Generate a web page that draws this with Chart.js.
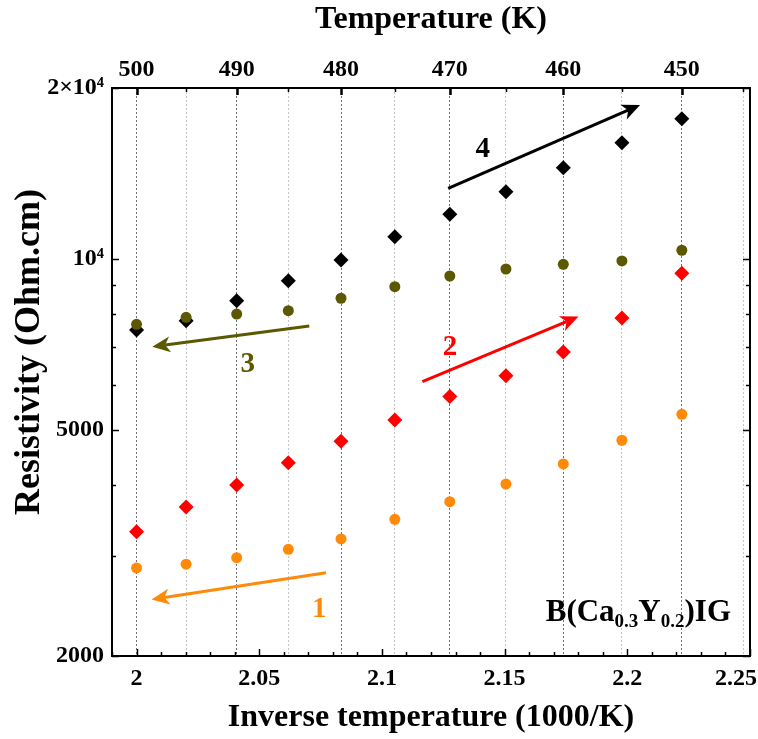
<!DOCTYPE html>
<html>
<head>
<meta charset="utf-8">
<script src="https://cdn.jsdelivr.net/npm/chart.js@4/dist/chart.umd.min.js"></script>
<style>
  html, body { margin: 0; padding: 0; background: #fff; }
  #wrap { width: 758px; height: 739px; }
</style>
</head>
<body>
<div id="wrap"><canvas id="c" width="758" height="739"></canvas></div>
<script>
// Measurement temperatures (K) and resistivity (Ohm.cm) for the four runs
const temperatureK = [500, 495, 490, 485, 480, 475, 470, 465, 460, 455, 450];
const rhoRun1 = [2858, 2902, 2980, 3082, 3214, 3480, 3738, 4016, 4356, 4796, 5328];
const rhoRun2 = [3310, 3660, 4000, 4378, 4776, 5206, 5726, 6230, 6858, 7872, 9438];
const rhoRun3 = [7674, 7894, 8000, 8108, 8528, 8938, 9334, 9602, 9788, 9920, 10360];
const rhoRun4 = [7500, 7786, 8444, 9154, 9960, 10948, 11988, 13134, 14476, 16024, 17660];

// Axis ranges and ticks
const X_MIN = 1.99, X_MAX = 2.25;
const inverseTicks = [2, 2.05, 2.1, 2.15, 2.2, 2.25];
const inverseMinorTicks = [1.99, 2.01, 2.02, 2.03, 2.04, 2.06, 2.07, 2.08, 2.09, 2.11, 2.12, 2.13, 2.14, 2.16, 2.17, 2.18, 2.19, 2.21, 2.22, 2.23, 2.24];
const temperatureTicksK = [500, 495, 490, 485, 480, 475, 470, 465, 460, 455, 450, 445];
const Y_MIN = 2000, Y_MAX = 20000;
const rhoTicks = [2000, 5000, 10000, 20000];
const rhoTickLabels = ['2000', '5000', '10\u2074', '2\u00d710\u2074'];
const rhoMinorTicks = [3000, 4000, 6000, 7000, 8000, 9000];
const yTitle = 'Resistivity (Ohm.cm)';

// Trend arrows: labels, tails, heads and label anchors (1000/K, Ohm.cm)
const arrowNames = ['1', '2', '3', '4'];
const arrowColors = ['#ff8a0a', '#ff0000', '#5b5800', '#000000'];
const arrowTail = [[2.0772, 2804], [2.1165, 6080], [2.0704, 7622], [2.1270, 13318]];
const arrowHead = [[2.0061, 2516], [2.1801, 7917], [2.0064, 7006], [2.2052, 18668]];
const arrowLabelAt = [[2.0745, 2420], [2.1277, 7006], [2.0453, 6550], [2.1411, 15660]];

const SERIF = '"Liberation Serif", "Times New Roman", serif';
const tickFont = { family: SERIF, size: 24, weight: 'bold' };
const titleFont = { family: SERIF, size: 32, weight: 'bold' };

const toPoints = (vals) => temperatureK.map((t, i) => ({ x: 1000 / t, y: vals[i] }));

function fmtInverse(v) {
  return String(+v.toFixed(2));
}

// Frame, inward tick marks, y title and the right-most bottom label
const frameTicks = {
  id: 'frameTicks',
  afterDatasetsDraw(chart) {
    const { ctx, chartArea: a, scales } = chart;
    const sx = scales.x, sy = scales.y;
    ctx.save();
    ctx.strokeStyle = '#000';
    ctx.lineWidth = 1.5;
    const vTick = (v, len) => {
      const p = Math.round(sx.getPixelForValue(v)) + 0.5;
      ctx.beginPath();
      ctx.moveTo(p, a.bottom); ctx.lineTo(p, a.bottom - len);
      ctx.stroke();
    };
    inverseTicks.forEach(v => vTick(v, 7));
    inverseMinorTicks.forEach(v => vTick(v, 4));
    temperatureTicksK.forEach(t => {
      const p = Math.round(sx.getPixelForValue(1000 / t)) + 0.5;
      const len = t % 10 === 0 ? 7 : 4;
      ctx.lineWidth = t % 10 === 0 ? 2.5 : 1.5;
      ctx.beginPath();
      ctx.moveTo(p, a.top); ctx.lineTo(p, a.top + len);
      ctx.stroke();
    });
    ctx.lineWidth = 1.5;
    const hTick = (v, len) => {
      const p = Math.round(sy.getPixelForValue(v)) + 0.5;
      ctx.beginPath();
      ctx.moveTo(a.left, p); ctx.lineTo(a.left + len, p);
      ctx.moveTo(a.right, p); ctx.lineTo(a.right - len, p);
      ctx.stroke();
    };
    rhoTicks.forEach(v => hTick(v, 7));
    rhoMinorTicks.forEach(v => hTick(v, 4));
    ctx.lineWidth = 2;
    ctx.strokeRect(a.left, a.top, a.right - a.left, a.bottom - a.top);

    // last bottom label, kept inside the canvas
    const last = inverseTicks[inverseTicks.length - 1];
    ctx.font = `bold ${tickFont.size}px ${SERIF}`;
    ctx.fillStyle = '#000';
    ctx.textAlign = 'center';
    ctx.textBaseline = 'middle';
    const txt = fmtInverse(last);
    const w = ctx.measureText(txt).width;
    const px = Math.min(sx.getPixelForValue(last), chart.width - w / 2 - 1);
    const py = sx.top + sx.options.ticks.padding + tickFont.size * 1.2 / 2;
    ctx.fillText(txt, px, py);

    // rotated y-axis title
    ctx.translate(30, (a.top + a.bottom) / 2 - 20);
    ctx.rotate(-Math.PI / 2);
    ctx.font = `bold 36px ${SERIF}`;
    ctx.fillText(yTitle, 0, 0);
    ctx.restore();
  }
};

// Trend arrows, their numbers and the sample name
const annotations = {
  id: 'annotations',
  afterDatasetsDraw(chart) {
    const { ctx, chartArea: a, scales } = chart;
    const sx = scales.x, sy = scales.y;
    ctx.save();
    arrowNames.forEach((name, i) => {
      const x0 = sx.getPixelForValue(arrowTail[i][0]), y0 = sy.getPixelForValue(arrowTail[i][1]);
      const x1 = sx.getPixelForValue(arrowHead[i][0]), y1 = sy.getPixelForValue(arrowHead[i][1]);
      const ang = Math.atan2(y1 - y0, x1 - x0);
      const L = 18, W = 8, N = 5;
      ctx.strokeStyle = arrowColors[i];
      ctx.fillStyle = arrowColors[i];
      ctx.lineWidth = 3;
      ctx.beginPath();
      ctx.moveTo(x0, y0);
      ctx.lineTo(x1 - Math.cos(ang) * (L - N), y1 - Math.sin(ang) * (L - N));
      ctx.stroke();
      ctx.beginPath();
      ctx.translate(x1, y1);
      ctx.rotate(ang);
      ctx.moveTo(0, 0);
      ctx.lineTo(-L, -W);
      ctx.lineTo(-L + N, 0);
      ctx.lineTo(-L, W);
      ctx.closePath();
      ctx.fill();
      ctx.setTransform(1, 0, 0, 1, 0, 0);

      ctx.font = `bold 29px ${SERIF}`;
      ctx.textAlign = 'center';
      ctx.textBaseline = 'middle';
      ctx.fillText(name, sx.getPixelForValue(arrowLabelAt[i][0]), sy.getPixelForValue(arrowLabelAt[i][1]) + 1);
    });

    // sample composition with subscripts
    const parts = [['B(Ca', false], ['0.3', true], ['Y', false], ['0.2', true], [')IG', false]];
    const mainF = `bold 31px ${SERIF}`, subF = `bold 19px ${SERIF}`;
    let total = 0;
    parts.forEach(([t, sub]) => { ctx.font = sub ? subF : mainF; total += ctx.measureText(t).width; });
    let xx = a.right - 19 - total;
    const base = a.bottom - 35;
    ctx.fillStyle = '#000';
    ctx.textAlign = 'left';
    ctx.textBaseline = 'alphabetic';
    parts.forEach(([t, sub]) => {
      ctx.font = sub ? subF : mainF;
      ctx.fillText(t, xx, sub ? base + 6 : base);
      xx += ctx.measureText(t).width;
    });
    ctx.restore();
  }
};

new Chart(document.getElementById('c'), {
  type: 'scatter',
  data: {
    datasets: [
      { label: '1', data: toPoints(rhoRun1), pointStyle: 'circle', pointRadius: 5.5, backgroundColor: '#ff8a0a', borderWidth: 0 },
      { label: '2', data: toPoints(rhoRun2), pointStyle: 'rectRot', pointRadius: 7.5, backgroundColor: '#ff0000', borderWidth: 0 },
      { label: '3', data: toPoints(rhoRun3), pointStyle: 'circle', pointRadius: 5.5, backgroundColor: '#5b5800', borderWidth: 0 },
      { label: '4', data: toPoints(rhoRun4), pointStyle: 'rectRot', pointRadius: 7.5, backgroundColor: '#000000', borderWidth: 0 }
    ]
  },
  options: {
    responsive: false,
    animation: false,
    devicePixelRatio: 1,
    layout: { padding: { left: 0, right: 6, top: 0, bottom: 0 }, autoPadding: false },
    plugins: { legend: { display: false }, tooltip: { enabled: false } },
    elements: { point: { hoverRadius: 7 } },
    scales: {
      x: {
        type: 'linear', position: 'bottom', min: X_MIN, max: X_MAX,
        afterBuildTicks: s => { s.ticks = inverseTicks.map(v => ({ value: v })); },
        afterFit: s => { s.height = 83; },
        grid: { display: false, drawTicks: false },
        border: { display: false },
        ticks: {
          font: tickFont, color: '#000', padding: 8, maxRotation: 0, autoSkip: false,
          callback: v => (v >= inverseTicks[inverseTicks.length - 1] - 1e-9 ? '' : fmtInverse(v))
        },
        title: { display: true, text: 'Inverse temperature (1000/K)', font: titleFont, color: '#000', padding: { top: 0, bottom: 2 } }
      },
      xTop: {
        type: 'linear', position: 'top', min: X_MIN, max: X_MAX,
        afterBuildTicks: s => { s.ticks = temperatureTicksK.map(t => ({ value: 1000 / t })); },
        afterFit: s => { s.height = 88; },
        grid: {
          display: true, drawOnChartArea: true, drawTicks: false, lineWidth: 1,
          color: c => (Math.round(1000 / c.tick.value) % 10 === 0 ? '#6e6e6e' : '#c4c4c4')
        },
        border: { display: false, dash: [2, 2] },
        ticks: {
          font: tickFont, color: '#000', padding: 4, maxRotation: 0, autoSkip: false,
          callback: v => { const t = Math.round(1000 / v); return t % 10 === 0 && t >= 450 ? String(t) : ''; }
        },
        title: { display: true, text: 'Temperature (K)', font: titleFont, color: '#000', padding: { top: 1, bottom: 0 } }
      },
      y: {
        type: 'logarithmic', position: 'left', min: Y_MIN, max: Y_MAX,
        afterBuildTicks: s => { s.ticks = rhoTicks.map(v => ({ value: v })); },
        afterFit: s => { s.width = 112; },
        grid: { display: false, drawTicks: false },
        border: { display: false },
        ticks: {
          font: tickFont, color: '#000', padding: 8, autoSkip: false,
          callback: v => { const i = rhoTicks.indexOf(v); return i >= 0 ? rhoTickLabels[i] : ''; }
        },
        title: { display: false }
      }
    }
  },
  plugins: [frameTicks, annotations]
});
</script>
</body>
</html>
